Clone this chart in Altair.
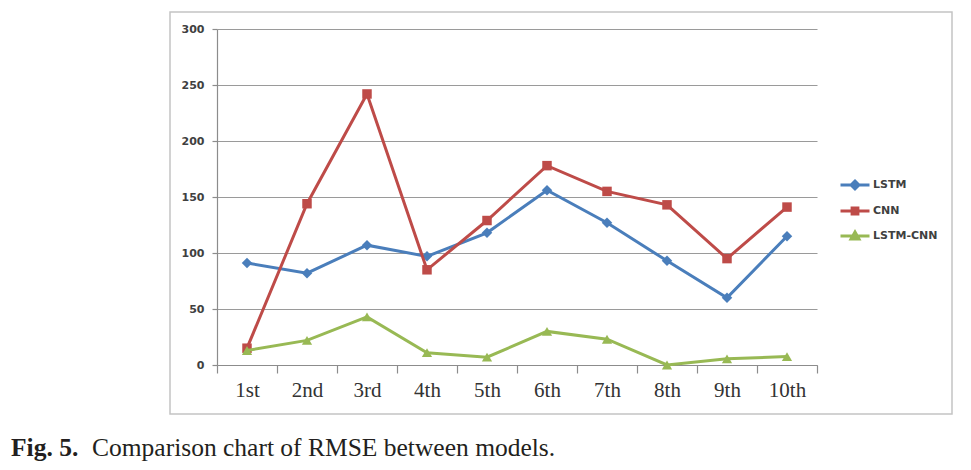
import altair as alt
import pandas as pd

# ---- data ----
categories = ["1st", "2nd", "3rd", "4th", "5th", "6th", "7th", "8th", "9th", "10th"]
series_names = ["LSTM", "CNN", "LSTM-CNN"]
lstm = [91, 82, 107, 97, 118, 156, 127, 93, 60, 115]
cnn = [15, 144, 242, 85, 129, 178, 155, 143, 95, 141]
lstm_cnn = [13, 22, 43, 11, 7, 30, 23, 0, 5.5, 7.5]
y_ticks = [0, 50, 100, 150, 200, 250, 300]
caption_bold = ["Fig. 5."]
caption_rest = ["Comparison chart of RMSE between models."]

# ---- styles ----
colors = ["#4A7EBB", "#BE4B48", "#98B954"]
marker_shapes = ["diamond", "square", "triangle-up"]
marker_sizes = [110, 90, 105]
legend_shapes = [
    "M-1,0H1M0,-0.27L0.27,0L0,0.27L-0.27,0Z",
    "M-1,0H1M-0.2,-0.2H0.2V0.2H-0.2Z",
    "M-1,0H1M0,-0.27L0.27,0.2H-0.27Z",
]

rows = []
for name, vals in zip(series_names, [lstm, cnn, lstm_cnn]):
    for c, v in zip(categories, vals):
        rows.append({"Model": name, "Order": c, "RMSE": v})
df = pd.DataFrame(rows)

x_enc = alt.X(
    "Order:N",
    sort=categories,
    bandPosition=0.5,
    scale=alt.Scale(type="band", domain=categories, paddingInner=0, paddingOuter=0),
    axis=alt.Axis(
        title=None, labelAngle=0, tickBand="extent", grid=False,
        domainColor="#8c8c8c", domainWidth=1.2, tickColor="#8c8c8c", tickWidth=1.2,
        tickSize=8, labelPadding=6, labelFont="Liberation Serif", labelFontSize=21,
        labelColor="#333333",
    ),
)
y_enc = alt.Y(
    "RMSE:Q",
    scale=alt.Scale(domain=[0, 300], nice=False),
    axis=alt.Axis(
        title=None, values=y_ticks, grid=True, gridColor="#9a9a9a", gridWidth=1.2,
        domainColor="#8c8c8c", domainWidth=1.2, tickColor="#8c8c8c", tickWidth=1.2,
        tickSize=5, labelPadding=8, labelFont="DejaVu Sans", labelFontWeight="bold",
        labelFontSize=11, labelColor="#404040",
    ),
)

base = alt.Chart(df)

layers = []
# frame around the chart
frame = alt.Chart(pd.DataFrame({"k": [0]})).mark_rect(
    fill="transparent", stroke="#c4c4c4", strokeWidth=1.5
).encode(x=alt.value(-47), x2=alt.value(735), y=alt.value(-17), y2=alt.value(385))
layers.append(frame)

for name, col, shp, sz in zip(series_names, colors, marker_shapes, marker_sizes):
    sub = base.transform_filter(alt.datum.Model == name)
    layers.append(sub.mark_line(color=col, strokeWidth=3).encode(x=x_enc, y=y_enc))
    layers.append(
        sub.mark_point(shape=shp, filled=True, color=col, size=sz, opacity=1).encode(x=x_enc, y=y_enc)
    )

leg = alt.Legend(
    title=None, orient="none", legendX=622, legendY=140, symbolSize=841,
    symbolStrokeWidth=3, labelFont="DejaVu Sans", labelFontWeight="bold",
    labelFontSize=11, labelColor="#404040", labelOffset=2, rowPadding=0,
)
legend_layer = base.mark_point(size=0, strokeWidth=3, opacity=1).encode(
    x=x_enc, y=y_enc,
    fill=alt.Fill("Model:N", scale=alt.Scale(domain=series_names, range=colors), legend=leg),
    stroke=alt.Stroke("Model:N", scale=alt.Scale(domain=series_names, range=colors), legend=leg),
    shape=alt.Shape("Model:N", scale=alt.Scale(domain=series_names, range=legend_shapes), legend=leg),
)
layers.append(legend_layer)

cap1 = alt.Chart(pd.DataFrame({"t": caption_bold})).mark_text(
    align="left", baseline="alphabetic", font="Liberation Serif", fontSize=25.5,
    fontWeight="bold", color="#231f20"
).encode(x=alt.value(-206), y=alt.value(427), text="t:N")
cap2 = alt.Chart(pd.DataFrame({"t": caption_rest})).mark_text(
    align="left", baseline="alphabetic", font="Liberation Serif", fontSize=25.5,
    color="#231f20"
).encode(x=alt.value(-125), y=alt.value(427), text="t:N")
layers += [cap1, cap2]

chart = alt.layer(*layers).properties(
    width=600, height=336,
    autosize=alt.AutoSizeParams(type="none"),
    padding={"left": 209, "top": 21, "right": 138, "bottom": 97},
    background="white",
).configure_view(stroke=None)

chart.save("out.html", embed_options={"renderer": "svg", "actions": False})
